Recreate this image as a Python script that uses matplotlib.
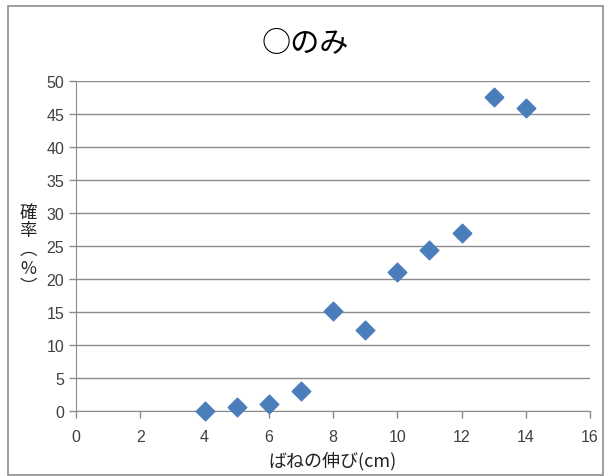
import matplotlib
matplotlib.use("Agg")
import matplotlib.pyplot as plt
from matplotlib.patches import Rectangle

plt.rcParams['font.family'] = ['Noto Sans CJK JP', 'DejaVu Sans']

title = "○のみ"
xlabel = "ばねの伸び(cm)"
ylabel_chars = ["確", "率", "︵", "%", "︶"]
x_vals = [4, 5, 6, 7, 8, 9, 10, 11, 12, 13, 14]
y_vals = [0.0, 0.6, 1.1, 3.0, 15.1, 12.3, 21.1, 24.4, 27.0, 47.6, 45.9]
x_ticks = [0, 2, 4, 6, 8, 10, 12, 14, 16]
y_ticks = [0, 5, 10, 15, 20, 25, 30, 35, 40, 45, 50]

W, H = 610, 477
fig = plt.figure(figsize=(W/100, H/100), dpi=100)
fig.patch.set_facecolor('white')

# chart-area border
fig.add_artist(Rectangle((8/W, 1 - 476/H), (603-8)/W, (476-7)/H,
                         transform=fig.transFigure, fill=False,
                         edgecolor='#8c8c8c', linewidth=1.2))

ax = fig.add_axes([76/W, 1 - 412/H, (590-76)/W, (412-82)/H])
ax.scatter(x_vals, y_vals, marker='D', s=90, color='#4a7ebb',
           edgecolors='#4a7ebb', zorder=3, clip_on=False)

ax.set_xlim(0, 16)
ax.set_ylim(0, 50)
ax.set_xticks(x_ticks)
ax.set_yticks(y_ticks)
ax.yaxis.grid(True, color='#8c8c8c', linewidth=1)
ax.set_axisbelow(True)
for s in ['top', 'right']:
    ax.spines[s].set_visible(False)
for s in ['left', 'bottom']:
    ax.spines[s].set_color('#8c8c8c')
ax.tick_params(axis='both', colors='#8c8c8c', length=5, width=1,
               labelcolor='#404040', labelsize=11.5)
ax.tick_params(axis='x', pad=8)
for lab in ax.get_xticklabels() + ax.get_yticklabels():
    lab.set_family(['Liberation Sans', 'DejaVu Sans'])

fig.text(305/W, 1 - 44/H, title, ha='center', va='center', fontsize=21, color='black')
fig.text(333/W, 1 - 461/H, xlabel, ha='center', va='center', fontsize=13, color='#222222')
fig.text(28/W, 1 - 250/H, "\n".join(ylabel_chars), ha='center', va='center',
         fontsize=12.5, color='#222222', linespacing=1.05)

fig.savefig("out.png", dpi=100)
